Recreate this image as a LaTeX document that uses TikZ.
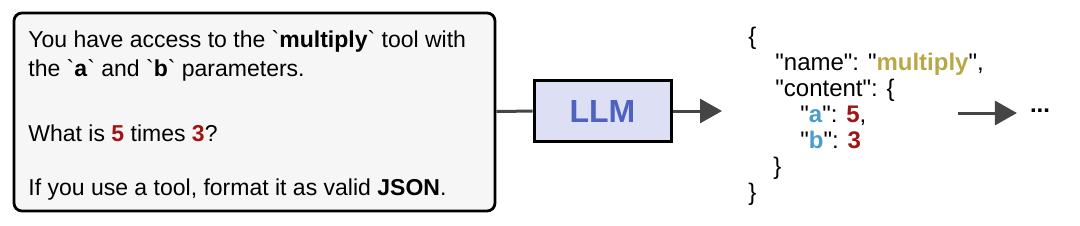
\documentclass[tikz,border=0pt]{standalone}
\usepackage{fontspec}
\setmainfont{Liberation Sans}
\newfontfamily\rawsans{Liberation Sans}
\usetikzlibrary{arrows.meta}
\definecolor{boxgray}{HTML}{F6F6F6}
\definecolor{linkgray}{HTML}{454545}
\definecolor{llmfill}{HTML}{DDE0F4}
\definecolor{llmblue}{HTML}{5062C0}
\definecolor{numred}{HTML}{A01414}
\definecolor{keyblue}{HTML}{4A9CCB}
\definecolor{namegold}{HTML}{B8A84A}
\newcommand{\btick}{\symbol{96}}
\begin{document}
\begin{tikzpicture}[x=0.5pt,y=-0.5pt,
  prompttext/.style={anchor=base west,inner sep=0pt,font=\rawsans\fontsize{11.5}{13}\selectfont},
  jsontext/.style={anchor=base west,inner sep=0pt,font=\rawsans\fontsize{12}{14}\selectfont},
  link/.style={draw=linkgray,line width=1.5pt},
  flow/.style={link,-{Triangle[length=11pt,width=12pt]}}]
\useasboundingbox (0,0) rectangle (1080,225);

\node[draw,line width=1.4pt,rounded corners=4pt,fill=boxgray,
  minimum width=240.5pt,minimum height=99pt] (prompt) at (254.5,112) {};
\node[prompttext] (ask1) at (28,47) {You have access to the \btick\textbf{multiply}\btick\ tool with};
\node[prompttext] (ask2) at (28,76) {the \btick\textbf{a}\btick\ and \btick\textbf{b}\btick\ parameters.};
\node[prompttext] (ask3) at (28,141) {What is \textbf{\textcolor{numred}{5}} times \textbf{\textcolor{numred}{3}}?};
\node[prompttext] (ask4) at (28,195) {If you use a tool, format it as valid \textbf{JSON}.};

\node[draw,line width=1.5pt,fill=llmfill,minimum width=68.5pt,minimum height=30.5pt,
  text=llmblue,font=\rawsans\fontsize{16}{18}\selectfont\bfseries] (llm) at (602.5,111) {LLM};
\coordinate (jsonin) at (722,111);
\draw[link] (prompt) -- (llm);
\draw[flow] (llm) -- (jsonin);

\node[jsontext] (open) at (748,44) {\{};
\node[jsontext] (name) at (775,70) {"name": "\textbf{\textcolor{namegold}{multiply}}",};
\node[jsontext] (content) at (775,96) {"content": \{};
\node[jsontext] (keya) at (800,122) {"\textbf{\textcolor{keyblue}{a}}": \textbf{\textcolor{numred}{5}},};
\node[jsontext] (keyb) at (800,148) {"\textbf{\textcolor{keyblue}{b}}": \textbf{\textcolor{numred}{3}}};
\node[jsontext] (inclose) at (773,174) {\}};
\node[jsontext] (close) at (748,200) {\}};

\coordinate (jsonout) at (958,113);
\node[font=\rawsans\fontsize{12}{14}\selectfont\bfseries] (dots) at (1040,111) {...};
\draw[flow,shorten >=3pt] (jsonout) -- (dots.west |- jsonout);
\end{tikzpicture}
\end{document}
